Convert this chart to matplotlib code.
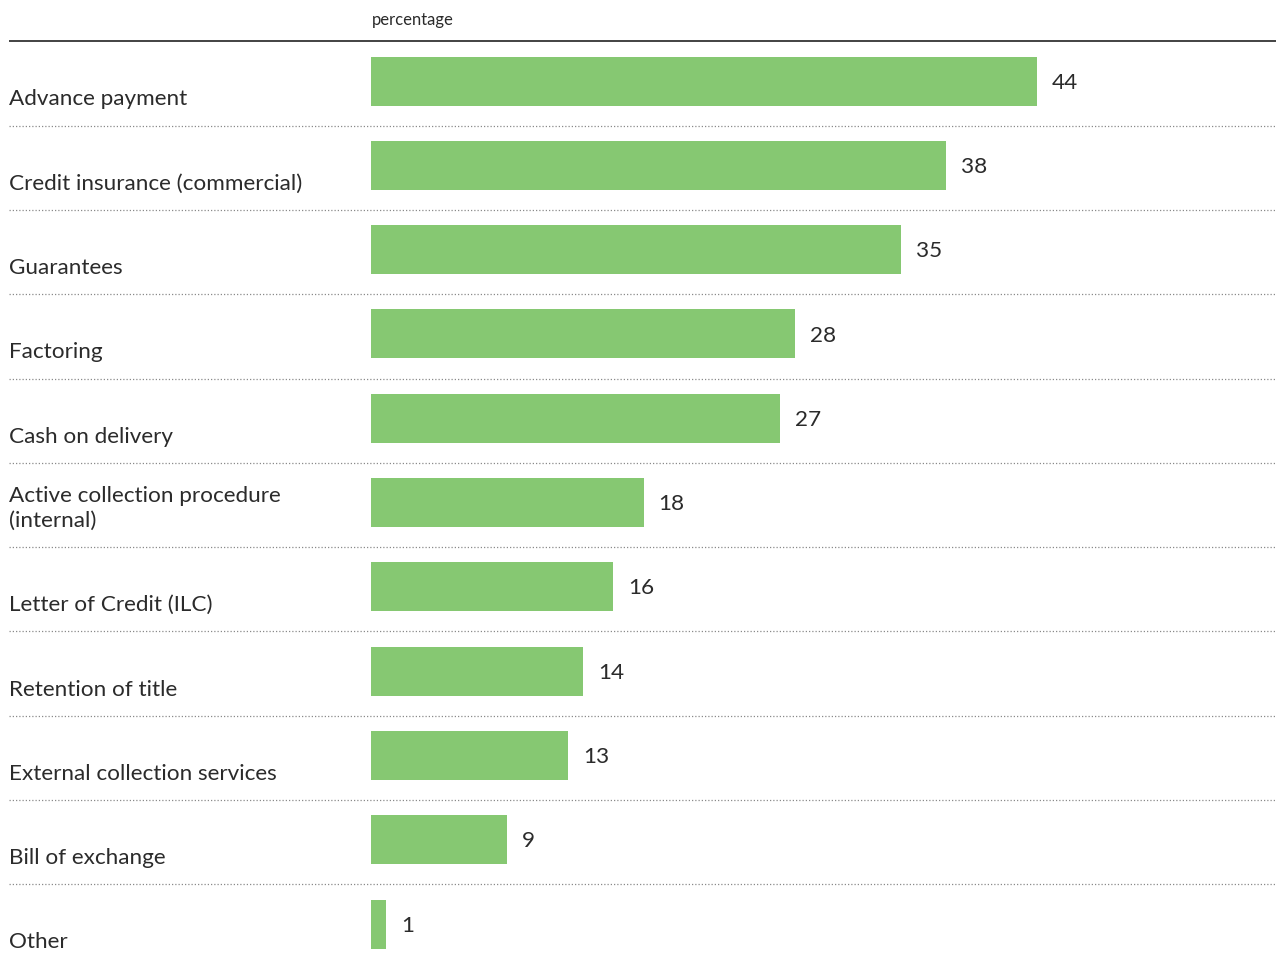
import matplotlib
matplotlib.use("Agg")
import matplotlib.pyplot as plt
from matplotlib.transforms import blended_transform_factory

categories = [
    "Advance payment",
    "Credit insurance (commercial)",
    "Guarantees",
    "Factoring",
    "Cash on delivery",
    "Active collection procedure\n(internal)",
    "Letter of Credit (ILC)",
    "Retention of title",
    "External collection services",
    "Bill of exchange",
    "Other",
]
values = [44, 38, 35, 28, 27, 18, 16, 14, 13, 9, 1]
unit_label = "percentage"

W, H = 1276, 965
BAR_COLOR = "#86c872"
TEXT_COLOR = "#2b2b2b"
FONT = ["Lato", "DejaVu Sans"]

fig = plt.figure(figsize=(W / 100, H / 100), dpi=100)
ax = fig.add_axes([0, 0, 1, 1])
ax.set_axis_off()

# pixel geometry of the plot area
x0_px = 371.0          # where bars start
px_per_unit = 15.14    # horizontal scale
y0_px = 81.0           # centre of the first bar
row_px = 84.3          # row pitch

ax.set_xlim(-x0_px / px_per_unit, (W - x0_px) / px_per_unit)
ax.set_ylim((H - y0_px) / row_px, -y0_px / row_px)

ypos = list(range(len(categories)))
bar_h = 49 / row_px
ax.barh(ypos, values, height=bar_h, color=BAR_COLOR, linewidth=0)

# x in figure/axes fraction, y in rows
trans = blended_transform_factory(ax.transAxes, ax.transData)

for y, lab, v in zip(ypos, categories, values):
    ax.text(9 / W, y + 0.29, lab, transform=trans, ha="left", va="baseline",
            fontsize=16.2, color=TEXT_COLOR, family=FONT, linespacing=1.3)
    ax.text(v + 15 / px_per_unit, y + 0.02, str(v), ha="left", va="center",
            fontsize=16.2, color=TEXT_COLOR, family=FONT)

# dotted separators between rows
for y in ypos[:-1]:
    ax.plot([9 / W, 1], [y + 0.53, y + 0.53], transform=trans,
            color="#8a8a8a", linewidth=0.9, linestyle=(0, (1, 1.6)))

# solid rule under the header
ax.plot([9 / W, 1], [-0.475, -0.475], transform=trans, color="#222222",
        linewidth=1.2, solid_capstyle="butt")

ax.text(372 / W, -0.72, unit_label, transform=trans, ha="left", va="center",
        fontsize=12, color=TEXT_COLOR, family=FONT)

fig.savefig("out.png", dpi=100)
